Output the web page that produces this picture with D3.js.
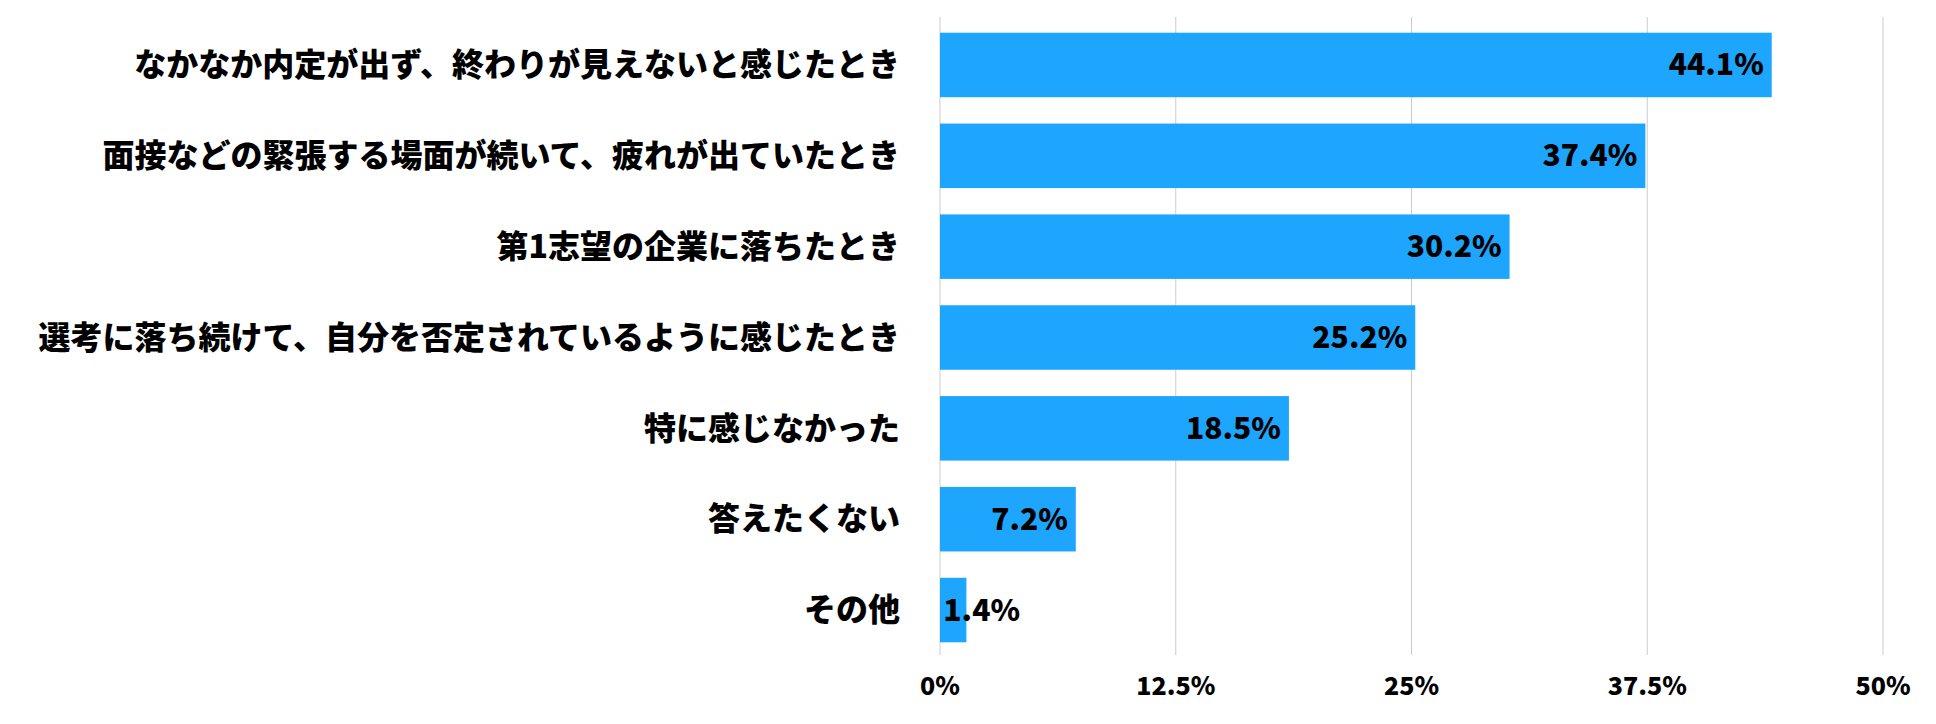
<!DOCTYPE html>
<html><head><meta charset="utf-8">
<script src="https://cdn.jsdelivr.net/npm/d3@7"></script>
<style>body{margin:0;background:#fff}svg{display:block}</style>
</head><body><svg id="c" width="1936" height="724"></svg>
<script>
const categories=["なかなか内定が出ず、終わりが見えないと感じたとき","面接などの緊張する場面が続いて、疲れが出ていたとき","第1志望の企業に落ちたとき","選考に落ち続けて、自分を否定されているように感じたとき","特に感じなかった","答えたくない","その他"];
const values=[44.1,37.4,30.2,25.2,18.5,7.2,1.4];
const ticks=[0,12.5,25,37.5,50];
const svg=d3.select("#c");
const font="'Noto Sans CJK JP','Noto Sans',sans-serif";
const x=d3.scaleLinear().domain([0,50]).range([940,1883]);
const y=d3.scaleBand().domain(categories).range([20,655]).paddingInner(0.29).paddingOuter(0.14);
svg.selectAll("line.g").data(ticks).join("line").attr("x1",d=>x(d)).attr("x2",d=>x(d)).attr("y1",17).attr("y2",655).attr("stroke","#ccc").attr("stroke-width",1);
svg.selectAll("rect").data(values).join("rect").attr("x",x(0)).attr("y",(d,i)=>y(categories[i])).attr("width",d=>x(d)-x(0)).attr("height",y.bandwidth()).attr("fill","#1ea5fe");
svg.selectAll("text.v").data(values).join("text").attr("x",d=>Math.max(x(d)-8,x(0)+80)).attr("y",(d,i)=>y(categories[i])+y.bandwidth()/2).attr("dy","0.35em").attr("text-anchor","end").attr("font-family",font).attr("font-weight","900").attr("font-size",30).text(d=>d+"%");
svg.selectAll("text.c").data(categories).join("text").attr("x",900).attr("y",d=>y(d)+y.bandwidth()/2).attr("dy","0.35em").attr("text-anchor","end").attr("font-family",font).attr("font-weight","900").attr("font-size",32).text(d=>d);
svg.selectAll("text.t").data(ticks).join("text").attr("x",d=>x(d)).attr("y",686).attr("dy","0.35em").attr("text-anchor","middle").attr("font-family",font).attr("font-weight","900").attr("font-size",25).text(d=>d+"%");
</script></body></html>
